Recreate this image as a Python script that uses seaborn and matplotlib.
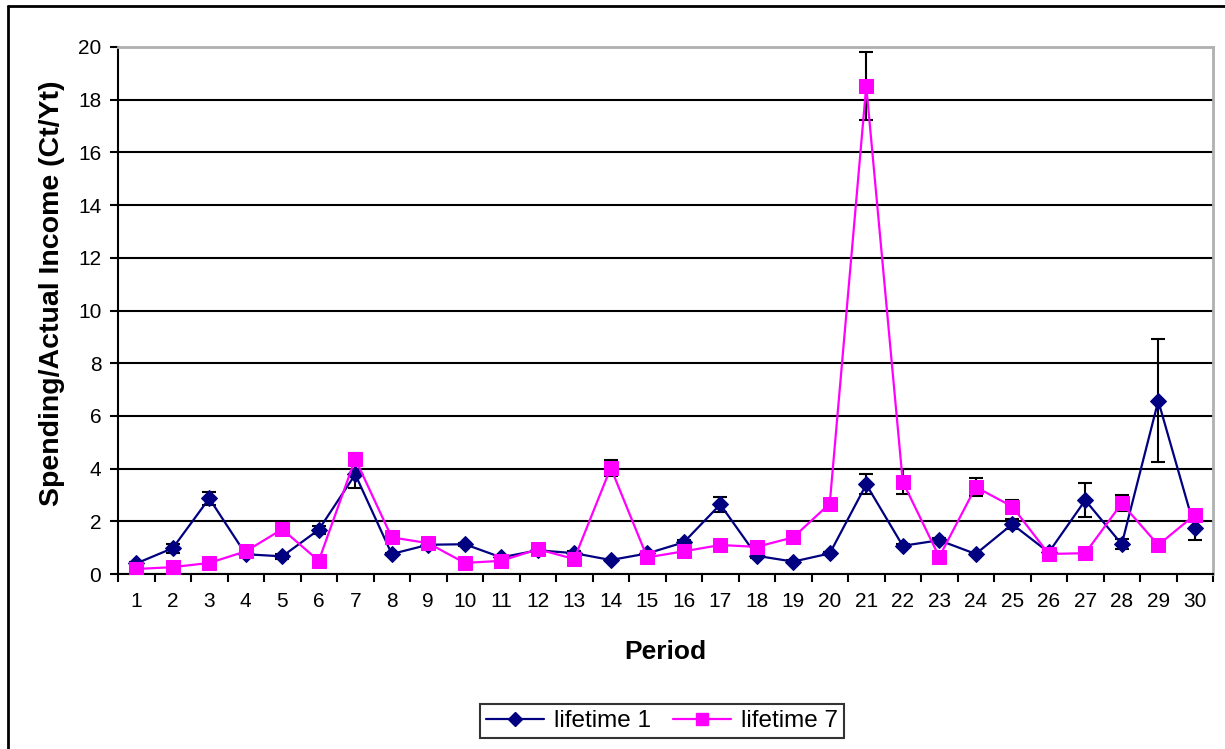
import matplotlib
matplotlib.use("Agg")
import matplotlib.pyplot as plt
from matplotlib.lines import Line2D
import numpy as np
import pandas as pd
import seaborn as sns

periods = list(range(1, 31))

lifetime1 = [0.40, 0.98, 2.87, 0.75, 0.67, 1.68, 3.78, 0.76, 1.11, 1.13,
             0.63, 0.90, 0.79, 0.53, 0.78, 1.20, 2.64, 0.69, 0.47, 0.78,
             3.40, 1.07, 1.28, 0.76, 1.89, 0.82, 2.80, 1.13, 6.57, 1.73]
lifetime1_err = [0.05, 0.17, 0.25, 0.08, 0.10, 0.15, 0.50, 0.05, 0.05, 0.05,
                 0.05, 0.05, 0.08, 0.05, 0.06, 0.10, 0.30, 0.10, 0.05, 0.06,
                 0.38, 0.05, 0.08, 0.05, 0.20, 0.05, 0.64, 0.20, 2.33, 0.45]

lifetime7 = [0.19, 0.26, 0.42, 0.86, 1.70, 0.50, 4.37, 1.39, 1.17, 0.42,
             0.50, 0.94, 0.57, 4.03, 0.63, 0.86, 1.10, 1.03, 1.39, 2.67,
             18.52, 3.50, 0.65, 3.30, 2.56, 0.76, 0.79, 2.68, 1.10, 2.24]
lifetime7_err = [0.05, 0.05, 0.05, 0.08, 0.18, 0.05, 0.23, 0.06, 0.05, 0.05,
                 0.05, 0.05, 0.07, 0.30, 0.07, 0.08, 0.05, 0.05, 0.05, 0.10,
                 1.28, 0.48, 0.05, 0.33, 0.25, 0.05, 0.07, 0.30, 0.05, 0.10]

series_names = ["lifetime 1", "lifetime 7"]
colors = ["#000080", "#FF00FF"]
markers = ["D", "s"]
msizes = [8.5, 9.5]

df = pd.DataFrame({
    "Period": periods * 2,
    "value": lifetime1 + lifetime7,
    "err": lifetime1_err + lifetime7_err,
    "series": [series_names[0]] * 30 + [series_names[1]] * 30,
})

sns.set_theme(style="white")
plt.rcParams["font.family"] = ["Liberation Sans", "DejaVu Sans"]
plt.rcParams["text.color"] = "black"
plt.rcParams["axes.labelcolor"] = "black"
plt.rcParams["xtick.color"] = "black"
plt.rcParams["ytick.color"] = "black"

fig = plt.figure(figsize=(12.25, 7.49), dpi=100)
ax = fig.add_axes([118 / 1225, 1 - 574 / 749, (1213 - 118) / 1225, (574 - 47) / 749])

for i, name in enumerate(series_names):
    sub = df[df["series"] == name]
    ax.errorbar(sub["Period"], sub["value"], yerr=sub["err"], fmt="none",
                ecolor="black", elinewidth=1.5, capsize=5, capthick=1.5,
                zorder=3 + 2 * i)
    sns.lineplot(data=sub, x="Period", y="value", ax=ax, color=colors[i],
                 marker=markers[i], markersize=msizes[i], markeredgecolor=colors[i],
                 linewidth=1.6, legend=False, zorder=4 + 2 * i)

ax.set_xlim(0.5, 30.5)
ax.set_ylim(0, 20)
ax.set_yticks(np.arange(0, 21, 2))
ax.set_xticks(periods)
ax.set_xticklabels([str(p) for p in periods], fontsize=15)
ax.set_xticks(np.arange(0.5, 31, 1), minor=True)
ax.tick_params(axis="x", which="major", length=0, pad=13)
ax.tick_params(axis="x", which="minor", length=6, width=1.5, color="black", direction="out", bottom=True)
ax.tick_params(axis="y", which="major", length=6, width=1.5, color="black", direction="out",
               left=True, labelsize=15, pad=6)
ax.yaxis.grid(True, color="black", linewidth=1.5)
ax.xaxis.grid(False)
ax.set_axisbelow(True)

for side in ["left", "bottom"]:
    ax.spines[side].set_color("black")
    ax.spines[side].set_linewidth(1.5)
for side in ["top", "right"]:
    ax.spines[side].set_color("#B0B0B0")
    ax.spines[side].set_linewidth(2)

ax.set_xlabel("Period", fontsize=19, fontweight="bold", labelpad=21)
ax.set_ylabel("Spending/Actual Income (Ct/Yt)", fontsize=20.5, fontweight="bold", labelpad=9)
ax.yaxis.label.set_y(0.532)

handles = [Line2D([], [], color=colors[i], marker=markers[i], markersize=msizes[i] - 1.5,
                  markeredgecolor=colors[i], linewidth=1.6) for i in range(2)]
leg = fig.legend(handles, series_names, loc="center", bbox_to_anchor=(662 / 1225, 1 - 721 / 749),
                 ncol=2, frameon=True, fancybox=False, fontsize=17.5, handlelength=2.4,
                 columnspacing=0.9, handletextpad=0.4, borderpad=0.25, borderaxespad=0)
leg.get_frame().set_edgecolor("black")
leg.get_frame().set_linewidth(1.5)

# outer chart frame
fig.add_artist(Line2D([8 / 1225, 1.0], [1 - 6 / 749, 1 - 6 / 749], color="black", linewidth=2,
                      transform=fig.transFigure))
fig.add_artist(Line2D([8 / 1225, 8 / 1225], [0, 1 - 6 / 749], color="black", linewidth=2,
                      transform=fig.transFigure))

fig.savefig("out.png", dpi=100, facecolor="white")
